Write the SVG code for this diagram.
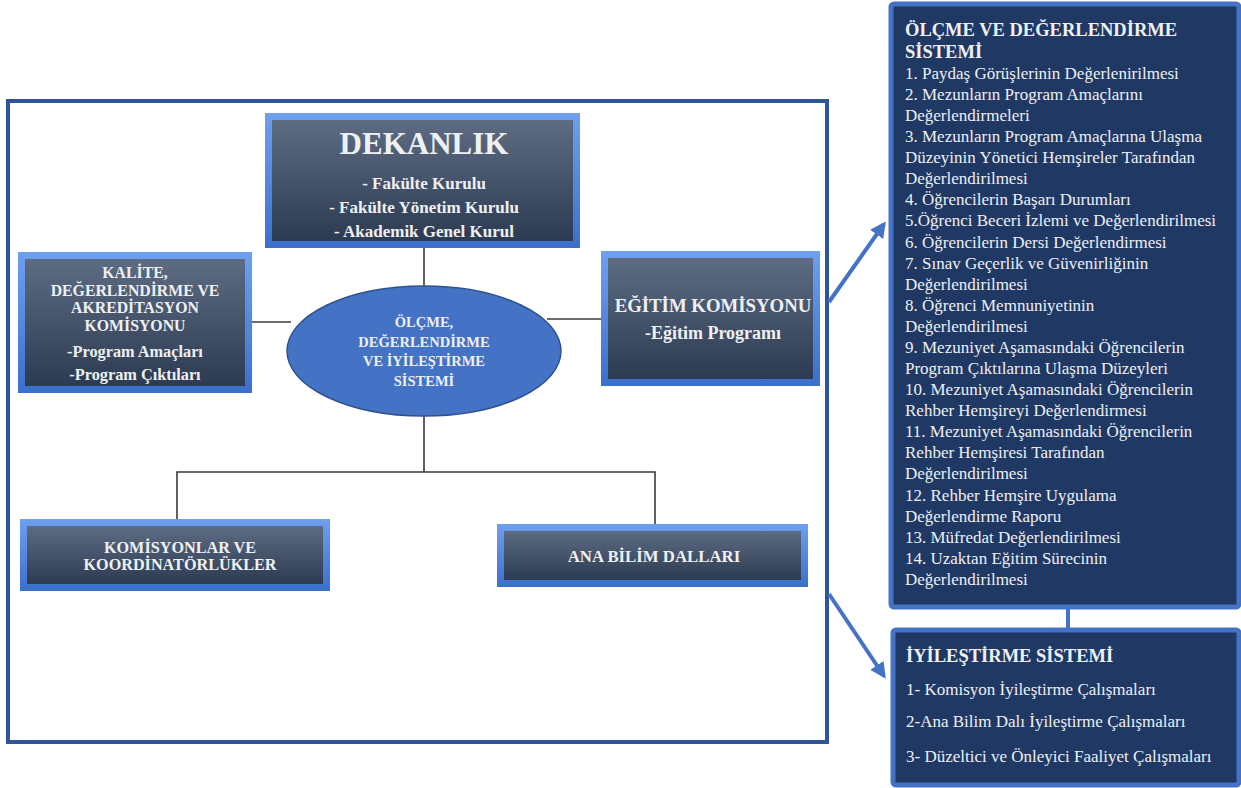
<svg xmlns="http://www.w3.org/2000/svg" width="1241" height="788" viewBox="0 0 1241 788">
<style>
.t{font-family:"Liberation Serif","Times New Roman",serif;fill:#eef0f4}
.b{font-weight:bold}
.c{text-anchor:middle}
.ln{stroke:#3a3a3a;stroke-width:1.6;fill:none}
.bl{stroke:#4472c4;stroke-width:4;fill:none}
.outer{fill:url(#frame)}
.inner{fill:url(#body)}
.panel{fill:#1f3864;stroke:#4472c4;stroke-width:5}
</style>
<defs>
<linearGradient id="frame" x1="0" y1="0" x2="0" y2="1">
<stop offset="0" stop-color="#6fa0ee"/>
<stop offset="1" stop-color="#3b6fcc"/>
</linearGradient>
<linearGradient id="body" x1="0" y1="0" x2="0" y2="1">
<stop offset="0" stop-color="#5d6c82"/>
<stop offset="1" stop-color="#2c3b52"/>
</linearGradient>
<marker id="ah" viewBox="0 0 10 10" refX="8" refY="5" markerWidth="4" markerHeight="4" orient="auto">
<path d="M0,0 L10,5 L0,10 z" fill="#4472c4"/>
</marker>
</defs>
<rect width="1241" height="788" fill="#ffffff"/>
<rect x="8" y="101" width="819" height="641" fill="none" stroke="#2e5597" stroke-width="4"/>

<g id="connectors">
<line class="ln" x1="424" y1="248" x2="424" y2="287"/>
<line class="ln" x1="252" y1="322" x2="291" y2="322"/>
<line class="ln" x1="547" y1="319" x2="601" y2="319"/>
<polyline class="ln" points="424,415 424,472"/>
<polyline class="ln" points="177,520 177,472 655,472 655,525"/>
<line class="bl" x1="829" y1="302" x2="884" y2="224" marker-end="url(#ah)"/>
<line class="bl" x1="829" y1="594" x2="884" y2="676" marker-end="url(#ah)"/>
<line class="bl" x1="1068" y1="607" x2="1068" y2="630"/>
</g>

<g id="dekanlik">
<rect class="outer" x="265" y="113" width="315" height="135"/>
<rect class="inner" x="272" y="120" width="301" height="121"/>
<text class="t b c" x="424" y="154" font-size="31">DEKANLIK</text>
<text class="t b c" x="424" y="189" font-size="17">- Fakülte Kurulu</text>
<text class="t b c" x="424" y="213" font-size="17">- Fakülte Yönetim Kurulu</text>
<text class="t b c" x="424" y="237" font-size="17">- Akademik Genel Kurul</text>
</g>

<g id="kalite">
<rect class="outer" x="18" y="252" width="234" height="141"/>
<rect class="inner" x="25" y="259" width="220" height="127"/>
<text class="t b c" x="135" y="278" font-size="15.8">KALİTE,</text>
<text class="t b c" x="135" y="295.5" font-size="15.8">DEĞERLENDİRME VE</text>
<text class="t b c" x="135" y="313" font-size="15.8">AKREDİTASYON</text>
<text class="t b c" x="135" y="330.5" font-size="15.8">KOMİSYONU</text>
<text class="t b c" x="135" y="357" font-size="16.3">-Program Amaçları</text>
<text class="t b c" x="135" y="380" font-size="16.3">-Program Çıktıları</text>
</g>

<g id="olcme">
<ellipse cx="424" cy="351" rx="137" ry="65" fill="#4472c4" stroke="#2f528f" stroke-width="1.5"/>
<text class="t b c" x="424" y="327" font-size="14.5">ÖLÇME,</text>
<text class="t b c" x="424" y="347" font-size="14.5">DEĞERLENDİRME</text>
<text class="t b c" x="424" y="366" font-size="14.5">VE İYİLEŞTİRME</text>
<text class="t b c" x="424" y="386" font-size="14.5">SİSTEMİ</text>
</g>

<g id="egitim">
<rect class="outer" x="601" y="251" width="219" height="135"/>
<rect class="inner" x="608" y="258" width="205" height="121"/>
<text class="t b c" x="713" y="312" font-size="18.8">EĞİTİM KOMİSYONU</text>
<text class="t b c" x="713" y="339" font-size="18">-Eğitim Programı</text>
</g>

<g id="komisyonlar">
<rect class="outer" x="20" y="519" width="310" height="72"/>
<rect class="inner" x="27" y="526" width="296" height="58"/>
<text class="t b c" x="180" y="553" font-size="16.2">KOMİSYONLAR VE</text>
<text class="t b c" x="180" y="570" font-size="16.2">KOORDİNATÖRLÜKLER</text>
</g>

<g id="anabilim">
<rect class="outer" x="497" y="524" width="311" height="63"/>
<rect class="inner" x="504" y="531" width="297" height="49"/>
<text class="t b c" x="654" y="562" font-size="16.8">ANA BİLİM DALLARI</text>
</g>

<g id="olcme-degerlendirme">
<rect class="panel" x="891" y="4" width="348" height="603" rx="3"/>
<text class="t b" x="905" y="36" font-size="18.5">ÖLÇME VE DEĞERLENDİRME</text>
<text class="t b" x="905" y="58" font-size="18.5">SİSTEMİ</text>
<g class="t" font-size="17">
<text x="905" y="79">1. Paydaş Görüşlerinin Değerlenirilmesi</text>
<text x="905" y="100">2. Mezunların Program Amaçlarını</text>
<text x="905" y="121">Değerlendirmeleri</text>
<text x="905" y="142">3. Mezunların Program Amaçlarına Ulaşma</text>
<text x="905" y="163">Düzeyinin Yönetici Hemşireler Tarafından</text>
<text x="905" y="184">Değerlendirilmesi</text>
<text x="905" y="205">4. Öğrencilerin Başarı Durumları</text>
<text x="905" y="226">5.Öğrenci Beceri İzlemi ve Değerlendirilmesi</text>
<text x="905" y="248">6. Öğrencilerin Dersi Değerlendirmesi</text>
<text x="905" y="269">7. Sınav Geçerlik ve Güvenirliğinin</text>
<text x="905" y="290">Değerlendirilmesi</text>
<text x="905" y="311">8. Öğrenci Memnuniyetinin</text>
<text x="905" y="332">Değerlendirilmesi</text>
<text x="905" y="353">9. Mezuniyet Aşamasındaki Öğrencilerin</text>
<text x="905" y="374">Program Çıktılarına Ulaşma Düzeyleri</text>
<text x="905" y="395">10. Mezuniyet Aşamasındaki Öğrencilerin</text>
<text x="905" y="416">Rehber Hemşireyi Değerlendirmesi</text>
<text x="905" y="437">11. Mezuniyet Aşamasındaki Öğrencilerin</text>
<text x="905" y="458">Rehber Hemşiresi Tarafından</text>
<text x="905" y="479">Değerlendirilmesi</text>
<text x="905" y="501">12. Rehber Hemşire Uygulama</text>
<text x="905" y="522">Değerlendirme Raporu</text>
<text x="905" y="543">13. Müfredat Değerlendirilmesi</text>
<text x="905" y="564">14. Uzaktan Eğitim Sürecinin</text>
<text x="905" y="585">Değerlendirilmesi</text>
</g>
</g>

<g id="iyilestirme">
<rect class="panel" x="893" y="630" width="346" height="155" rx="3"/>
<text class="t b" x="906" y="662" font-size="18.5">İYİLEŞTİRME SİSTEMİ</text>
<text class="t" x="906" y="695" font-size="17">1- Komisyon İyileştirme Çalışmaları</text>
<text class="t" x="906" y="727" font-size="17">2-Ana Bilim Dalı İyileştirme Çalışmaları</text>
<text class="t" x="906" y="762" font-size="17">3- Düzeltici ve Önleyici Faaliyet Çalışmaları</text>
</g>
</svg>
